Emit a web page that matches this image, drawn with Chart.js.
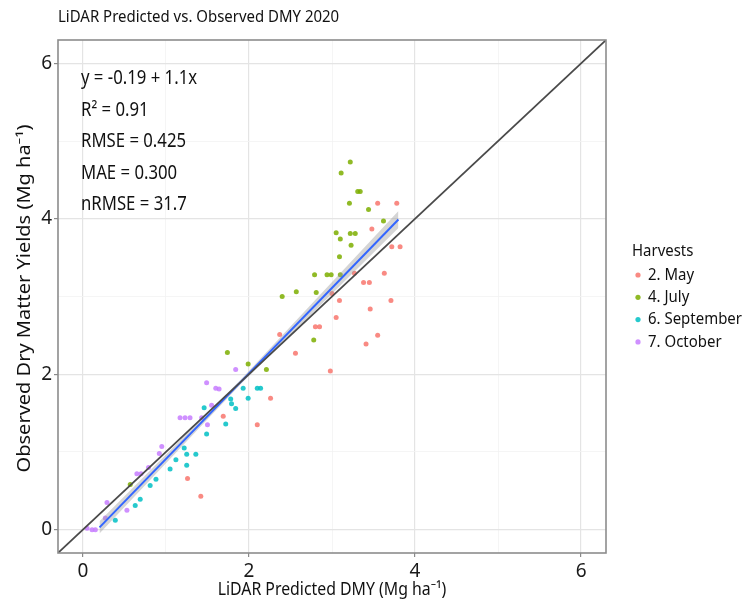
<!DOCTYPE html>
<html>
<head>
<meta charset="utf-8">
<script src="https://cdn.jsdelivr.net/npm/chart.js@4.4.1/dist/chart.umd.min.js"></script>
<style>
  html, body { margin: 0; padding: 0; background: #fff; }
  #wrap { width: 746px; height: 603px; }
</style>
</head>
<body>
<div id="wrap"><canvas id="chart" width="746" height="603"></canvas></div>
<script>
// valeurs (Mg/ha)
const mayX = [3.55, 3.78, 3.48, 3.72, 3.82, 3.63, 3.27, 3.38, 3.45, 3.09, 3.71, 3.46, 3.05, 2.80, 2.85, 3.55, 3.41, 2.37, 2.56, 2.26, 1.69, 2.10, 1.26, 1.42, 3.00, 2.98];
const mayY = [4.20, 4.20, 3.87, 3.64, 3.64, 3.30, 3.30, 3.18, 3.18, 2.95, 2.95, 2.84, 2.73, 2.61, 2.61, 2.50, 2.39, 2.51, 2.27, 1.69, 1.46, 1.35, 0.66, 0.43, 3.04, 2.04];

const julyX = [3.22, 3.11, 3.31, 3.34, 3.21, 3.44, 3.62, 3.05, 3.22, 3.28, 3.10, 3.23, 3.09, 2.79, 2.94, 2.99, 3.10, 2.40, 2.57, 2.81, 2.78, 1.74, 1.99, 2.21, 0.57];
const julyY = [4.73, 4.59, 4.35, 4.35, 4.20, 4.12, 3.97, 3.82, 3.81, 3.81, 3.74, 3.66, 3.51, 3.28, 3.28, 3.28, 3.28, 3.00, 3.06, 3.05, 2.44, 2.28, 2.13, 2.06, 0.58];

const septX = [1.93, 2.10, 2.14, 1.99, 1.78, 1.79, 1.84, 1.46, 1.72, 1.49, 1.22, 1.25, 1.36, 1.12, 1.25, 1.05, 0.88, 0.81, 0.69, 0.63, 0.39];
const septY = [1.82, 1.82, 1.82, 1.69, 1.68, 1.62, 1.56, 1.57, 1.36, 1.23, 1.05, 0.97, 0.97, 0.90, 0.83, 0.78, 0.65, 0.57, 0.39, 0.31, 0.12];

const octX = [1.84, 1.49, 1.60, 1.64, 1.55, 1.17, 1.23, 1.29, 1.43, 1.50, 0.95, 0.92, 0.79, 0.65, 0.70, 0.29, 0.53, 0.27, 0.11, 0.15, 0.05];
const octY = [2.06, 1.89, 1.82, 1.81, 1.60, 1.44, 1.44, 1.44, 1.44, 1.35, 1.07, 0.98, 0.80, 0.72, 0.72, 0.35, 0.25, 0.15, 0.00, 0.00, 0.02];

// droite ajustée + bande de confiance
const fitX = [0.2, 3.8];
const fitY = [0.03, 3.99];
const bandX = [0.2, 1.9, 3.8];
const bandLow = [-0.05, 1.87, 3.88];
const bandHigh = [0.11, 1.93, 4.10];

// droite 1:1
const oneX = [-0.3, 6.3];
const oneY = [-0.3, 6.3];

const axisTicks = [0, 2, 4, 6];
const harvestNames = ['2. May', '4. July', '6. September', '7. October'];
const harvestColors = ['#F8766D', '#7CAE00', '#00BFC4', '#C77CFF'];
const statLines = ['y = -0.19 + 1.1x', 'R² = 0.91', 'RMSE = 0.425', 'MAE = 0.300', 'nRMSE = 31.7'];
const plotTitle = 'LiDAR Predicted vs. Observed DMY 2020';
const xTitle = 'LiDAR Predicted DMY (Mg ha⁻¹)';
const yTitle = 'Observed Dry Matter Yields (Mg ha⁻¹)';
const legendTitle = 'Harvests';

const FONT = "'Noto Sans', 'Open Sans', 'DejaVu Sans', sans-serif";
const SX = 0.88; // le texte de la figure est étroit
Chart.defaults.font.family = FONT;

const toPts = (xs, ys) => xs.map((x, i) => ({ x: x, y: ys[i] }));
const fade = (hex, a) => {
  const n = parseInt(hex.slice(1), 16);
  return 'rgba(' + (n >> 16) + ',' + ((n >> 8) & 255) + ',' + (n & 255) + ',' + a + ')';
};

const seriesX = [mayX, julyX, septX, octX];
const seriesY = [mayY, julyY, septY, octY];

const pointSets = harvestNames.map((name, i) => ({
  label: name,
  harvest: true,
  data: toPts(seriesX[i], seriesY[i]),
  backgroundColor: fade(harvestColors[i], 0.85),
  borderWidth: 0,
  pointRadius: 2.5,
  showLine: false,
  order: 3
}));

const lineSets = [
  {
    label: '1:1',
    data: toPts(oneX, oneY),
    showLine: true,
    borderColor: '#4a4a4a',
    borderWidth: 1.7,
    pointRadius: 0,
    order: 0
  },
  {
    label: 'fit',
    data: toPts(fitX, fitY),
    showLine: true,
    borderColor: '#3366FF',
    borderWidth: 2,
    pointRadius: 0,
    order: 1
  },
  {
    label: 'bandHigh',
    data: toPts(bandX, bandHigh),
    showLine: true,
    borderWidth: 0,
    borderColor: 'rgba(0,0,0,0)',
    pointRadius: 0,
    fill: false,
    order: 2
  },
  {
    label: 'bandLow',
    data: toPts(bandX, bandLow),
    showLine: true,
    borderWidth: 0,
    borderColor: 'rgba(0,0,0,0)',
    backgroundColor: 'rgba(150,150,150,0.4)',
    pointRadius: 0,
    fill: '-1',
    order: 2
  }
];

const isMajor = v => axisTicks.includes(v);

function axis(isX) {
  return {
    type: 'linear',
    min: -0.3,
    max: 6.3,
    afterFit: s => { if (isX) s.height = 50; else s.width = 58; },
    ticks: {
      stepSize: 1,
      includeBounds: false,
      autoSkip: false,
      maxRotation: 0,
      padding: isX ? 3 : 2,
      color: '#1a1a1a',
      font: { size: 19 },
      callback: v => isMajor(v) ? String(v) : ''
    },
    grid: {
      color: c => (c.tick && isMajor(c.tick.value)) ? '#e4e4e4' : '#f2f2f2',
      lineWidth: c => (c.tick && isMajor(c.tick.value)) ? 1.2 : 0.8,
      tickLength: 4,
      tickColor: c => (c.tick && isMajor(c.tick.value)) ? '#8a8a8a' : 'rgba(0,0,0,0)'
    },
    border: { display: false }
  };
}

// texte étroit : on écrase horizontalement
function narrowText(ctx, text, x, y, size, align) {
  ctx.save();
  ctx.font = size + 'px ' + FONT;
  ctx.textAlign = align || 'left';
  ctx.textBaseline = 'middle';
  ctx.translate(x, y);
  ctx.scale(SX, 1);
  ctx.fillText(text, 0, 0);
  ctx.restore();
}

// cadre, titres, stats et légende
const decor = {
  id: 'decor',
  afterDraw(chart) {
    const ctx = chart.ctx;
    const a = chart.chartArea;
    ctx.save();
    ctx.strokeStyle = '#8c8c8c';
    ctx.lineWidth = 1.6;
    ctx.strokeRect(a.left, a.top, a.right - a.left, a.bottom - a.top);
    ctx.fillStyle = '#111';

    narrowText(ctx, plotTitle, a.left, 17, 17);
    narrowText(ctx, xTitle, (a.left + a.right) / 2, 590, 18, 'center');

    // titre vertical
    ctx.save();
    ctx.font = '20px ' + FONT;
    ctx.textAlign = 'center';
    ctx.textBaseline = 'middle';
    ctx.translate(25, (a.top + a.bottom) / 2 + 2);
    ctx.scale(SX, 1);
    ctx.rotate(-Math.PI / 2);
    ctx.fillText(yTitle, 0, 0);
    ctx.restore();

    statLines.forEach((t, i) => narrowText(ctx, t, 81, 79 + i * 31.5, 19));

    narrowText(ctx, legendTitle, 632, 251, 17);
    chart.data.datasets.filter(d => d.harvest).forEach((d, i) => {
      const y = 275 + i * 22.3;
      ctx.fillStyle = d.backgroundColor;
      ctx.beginPath();
      ctx.arc(638, y, 2.6, 0, Math.PI * 2);
      ctx.fill();
      ctx.fillStyle = '#111';
      narrowText(ctx, d.label, 648, y, 17);
    });
    ctx.restore();
  }
};

new Chart(document.getElementById('chart'), {
  type: 'scatter',
  data: { datasets: lineSets.concat(pointSets) },
  options: {
    responsive: false,
    animation: false,
    devicePixelRatio: 1,
    layout: { padding: { top: 40, right: 140, left: 0, bottom: 0 } },
    plugins: {
      legend: { display: false },
      tooltip: { enabled: false }
    },
    scales: {
      x: axis(true),
      y: axis(false)
    }
  },
  plugins: [decor]
});
</script>
</body>
</html>
